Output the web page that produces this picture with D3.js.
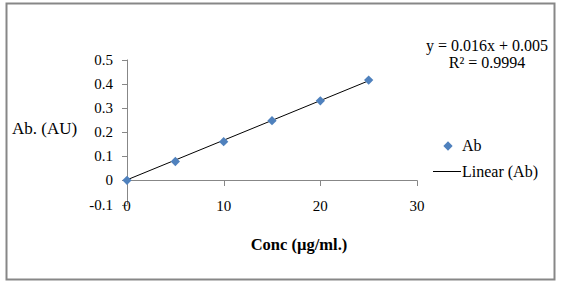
<!DOCTYPE html>
<html>
<head>
<meta charset="utf-8">
<script src="https://cdn.jsdelivr.net/npm/d3@7"></script>
<style>
  body{margin:0;background:#fff;}
  svg text{font-family:"Liberation Serif","DejaVu Serif",serif;fill:#000;}
</style>
</head>
<body>
<svg id="chart" width="561" height="284"></svg>
<script>
'use strict';

var concX=[0,5,10,15,20,25];
var absY=[0,0.078,0.160,0.247,0.329,0.415];
var trendX=[0,25];
var trendY=[0.002,0.412];
var xTicks=[0,10,20,30];
var yTicks=[-0.1,0,0.1,0.2,0.3,0.4,0.5];
var eqLines=['y = 0.016x + 0.005','R² = 0.9994'];

var svg=d3.select('#chart');

svg.append('rect')
    .attr('x',6.5).attr('y',3.5)
    .attr('width',548).attr('height',276)
    .attr('fill','#fff')
    .attr('stroke','#878787')
    .attr('stroke-width',2);

var x=d3.scaleLinear().domain([0,30]).range([127,417])
  , y=d3.scaleLinear().domain([-0.1,0.5]).range([204.5,59.5]);

var fs='15px';

// y axis line and ticks
svg.append('line')
    .attr('x1',x(0)+0.5).attr('x2',x(0)+0.5)
    .attr('y1',y(0.5)).attr('y2',y(-0.1))
    .attr('stroke','#878787');
svg.selectAll('.ytick').data(yTicks).enter().append('line')
    .attr('class','ytick')
    .attr('x1',x(0)-5).attr('x2',x(0)+0.5)
    .attr('y1',function(d){return Math.round(y(d))+0.5;})
    .attr('y2',function(d){return Math.round(y(d))+0.5;})
    .attr('stroke','#878787');
svg.selectAll('.ylab').data(yTicks).enter().append('text')
    .attr('class','ylab')
    .attr('x',113).attr('y',function(d){return y(d)+5;})
    .attr('text-anchor','end')
    .style('font-size',fs)
    .text(function(d){return d===0?'0':d.toFixed(1);});

// x axis at y=0
svg.append('line')
    .attr('x1',x(0)).attr('x2',x(30)+0.5)
    .attr('y1',Math.round(y(0))+0.5).attr('y2',Math.round(y(0))+0.5)
    .attr('stroke','#878787');
svg.selectAll('.xtick').data(xTicks).enter().append('line')
    .attr('class','xtick')
    .attr('x1',function(d){return Math.round(x(d))+0.5;})
    .attr('x2',function(d){return Math.round(x(d))+0.5;})
    .attr('y1',Math.round(y(0))+0.5).attr('y2',Math.round(y(0))+6)
    .attr('stroke','#878787');
svg.selectAll('.xlab').data(xTicks).enter().append('text')
    .attr('class','xlab')
    .attr('x',function(d){return x(d);}).attr('y',y(-0.1)+6)
    .attr('text-anchor','middle')
    .style('font-size',fs)
    .text(function(d){return d;});

// titles
svg.append('text')
    .attr('x',12).attr('y',134)
    .style('font-size','17px')
    .text('Ab. (AU)');
svg.append('text')
    .attr('x',299).attr('y',250)
    .attr('text-anchor','middle')
    .style('font-size','16.5px')
    .style('font-weight','bold')
    .text('Conc (µg/ml.)');

// trend line
svg.append('line')
    .attr('x1',x(trendX[0])).attr('y1',y(trendY[0]))
    .attr('x2',x(trendX[1])).attr('y2',y(trendY[1]))
    .attr('stroke','#000').attr('stroke-width',1);

// markers
var diamond=d3.symbol().type(d3.symbolDiamond2).size(55);
svg.selectAll('.pt').data(concX).enter().append('path')
    .attr('class','pt')
    .attr('d',diamond)
    .attr('transform',function(d,i){return 'translate('+x(d)+','+y(absY[i])+')';})
    .attr('fill','#4f81bd');

// equation
svg.selectAll('.eq').data(eqLines).enter().append('text')
    .attr('class','eq')
    .attr('x',487).attr('y',function(d,i){return 51+i*17;})
    .attr('text-anchor','middle')
    .style('font-size','16px')
    .text(function(d){return d;});

// legend
svg.append('path')
    .attr('d',diamond)
    .attr('transform','translate(448,146)')
    .attr('fill','#4f81bd');
svg.append('text')
    .attr('x',462).attr('y',151)
    .style('font-size','16px')
    .text('Ab');
svg.append('line')
    .attr('x1',433).attr('x2',461)
    .attr('y1',171.5).attr('y2',171.5)
    .attr('stroke','#000');
svg.append('text')
    .attr('x',462).attr('y',177)
    .style('font-size','16px')
    .text('Linear (Ab)');
</script>
</body>
</html>
